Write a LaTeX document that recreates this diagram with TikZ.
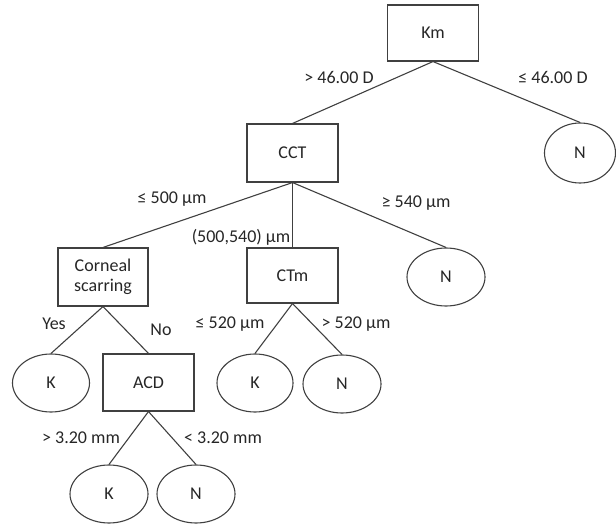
\documentclass[tikz,border=0pt]{standalone}
\usepackage{fontspec}
\setmainfont{Carlito}
\usetikzlibrary{shapes.geometric}
\begin{document}
\begin{tikzpicture}[x=1pt,y=-1pt,
  every node/.style={font=\fontsize{18}{20}\selectfont, text=black!85},
  testbox/.style={draw=black!75, line width=1.1pt, rectangle, inner sep=0pt, minimum width=91pt, minimum height=57pt, align=center},
  leaf/.style={draw=black!75, line width=1.1pt, ellipse, inner sep=0pt, minimum width=78pt, minimum height=58pt},
  branch/.style={draw=black!75, line width=1.1pt},
  cond/.style={inner sep=0pt}]
\useasboundingbox (0,0) rectangle (616,524);
% decision nodes
\node[testbox, minimum height=56pt] (km) at (433,33) {Km};
\node[testbox, minimum height=58pt] (cct) at (292.5,153) {CCT};
\node[testbox, minimum width=90pt, minimum height=58pt] (scar) at (103,277) {Corneal\\scarring};
\node[testbox, minimum height=55pt] (ctm) at (292.5,275.5) {CTm};
\node[testbox] (acd) at (148.5,382.5) {ACD};
% leaves
\node[leaf, minimum width=71pt, minimum height=60pt] (n1) at (580,153) {N};
\node[leaf] (n2) at (446,277) {N};
\node[leaf, minimum width=77pt] (k1) at (51,383) {K};
\node[leaf, minimum width=76pt] (k2) at (255,383) {K};
\node[leaf] (n3) at (342,384) {N};
\node[leaf] (k3) at (109,494) {K};
\node[leaf] (n4) at (196,494) {N};
% branches
\draw[branch] (km.south) -- (cct.north);
\draw[branch] (km.south) -- (n1.north);
\draw[branch] (cct.south) -- (scar.north);
\draw[branch] (cct.south) -- (ctm.north);
\draw[branch] (cct.south) -- (n2.north);
\draw[branch] (scar.south) -- (k1.north);
\draw[branch] (scar.south) -- (acd.north);
\draw[branch] (ctm.south) -- (k2.north);
\draw[branch] (ctm.south) -- (n3.north);
\draw[branch] (acd.south) -- (k3.north);
\draw[branch] (acd.south) -- (n4.north);
% split conditions
\node[cond] (c1) at (339,77) {> 46.00 D};
\node[cond] (c2) at (553,77) {≤ 46.00 D};
\node[cond] (c3) at (172,199) {≤ 500 µm};
\node[cond] (c4) at (241,237) {(500,540) µm};
\node[cond] (c5) at (416,203) {≥ 540 µm};
\node[cond] (c6) at (54,324) {Yes};
\node[cond] (c7) at (161,330) {No};
\node[cond] (c8) at (230,324) {≤ 520 µm};
\node[cond] (c9) at (356,324) {> 520 µm};
\node[cond] (c10) at (81,438) {> 3.20 mm};
\node[cond] (c11) at (223,438) {< 3.20 mm};
\end{tikzpicture}
\end{document}
